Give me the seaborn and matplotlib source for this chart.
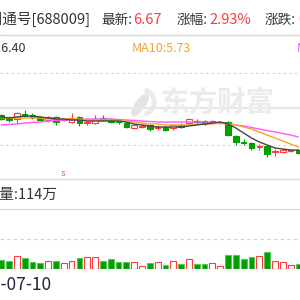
import matplotlib
matplotlib.use("Agg")
import matplotlib.pyplot as plt
from matplotlib.lines import Line2D
from matplotlib.patches import Wedge, Ellipse
import seaborn as sns

# daily candles, oldest first (price in yuan)
opens = [6.38, 6.35, 6.34, 6.39, 6.38, 6.36, 6.33, 6.36, 6.33, 6.31, 6.36, 6.30, 6.30,
         6.35, 6.34, 6.32, 6.30, 6.25, 6.26, 6.28, 6.25, 6.26, 6.25, 6.28, 6.30, 6.32,
         6.32, 6.31, 6.30, 6.31, 6.17, 6.11, 6.10, 6.06, 6.07, 6.01, 6.01, 6.02, 6.03]
closes = [6.34, 6.33, 6.40, 6.37, 6.36, 6.33, 6.36, 6.31, 6.34, 6.35, 6.30, 6.31, 6.34,
          6.33, 6.31, 6.31, 6.26, 6.28, 6.27, 6.24, 6.26, 6.23, 6.28, 6.26, 6.34, 6.31,
          6.29, 6.32, 6.31, 6.18, 6.11, 6.10, 6.05, 6.07, 5.99, 6.02, 6.03, 6.03, 6.00]
highs = [6.39, 6.37, 6.41, 6.43, 6.40, 6.37, 6.37, 6.37, 6.35, 6.40, 6.37, 6.32, 6.38,
         6.38, 6.35, 6.33, 6.31, 6.29, 6.29, 6.29, 6.28, 6.27, 6.29, 6.30, 6.35, 6.34,
         6.33, 6.33, 6.32, 6.32, 6.18, 6.14, 6.11, 6.09, 6.08, 6.04, 6.04, 6.04, 6.04]
lows = [6.33, 6.31, 6.30, 6.36, 6.34, 6.32, 6.31, 6.28, 6.32, 6.30, 6.27, 6.28, 6.29,
        6.32, 6.30, 6.29, 6.25, 6.24, 6.25, 6.22, 6.23, 6.22, 6.23, 6.25, 6.29, 6.29,
        6.28, 6.30, 6.29, 6.17, 6.08, 6.08, 6.03, 6.03, 5.96, 5.97, 6.00, 6.01, 5.99]

# moving averages as drawn
ma5 = [6.36, 6.35, 6.36, 6.37, 6.37, 6.36, 6.35, 6.34, 6.34, 6.33, 6.33, 6.32, 6.32,
       6.32, 6.32, 6.32, 6.31, 6.29, 6.28, 6.27, 6.26, 6.26, 6.26, 6.26, 6.27, 6.28,
       6.29, 6.30, 6.31, 6.29, 6.25, 6.20, 6.15, 6.11, 6.08, 6.05, 6.04, 6.03, 6.03]
ma10 = [6.35, 6.35, 6.35, 6.35, 6.35, 6.35, 6.34, 6.34, 6.34, 6.34, 6.34, 6.33, 6.33,
        6.33, 6.33, 6.32, 6.32, 6.31, 6.30, 6.29, 6.29, 6.28, 6.28, 6.28, 6.28, 6.29,
        6.29, 6.29, 6.30, 6.29, 6.28, 6.26, 6.24, 6.21, 6.18, 6.15, 6.12, 6.09, 6.06]
ma20 = [6.28, 6.285, 6.29, 6.30, 6.305, 6.31, 6.32, 6.325, 6.33, 6.33, 6.335, 6.34, 6.34,
        6.34, 6.34, 6.335, 6.33, 6.325, 6.32, 6.315, 6.31, 6.31, 6.31, 6.31, 6.31, 6.31,
        6.31, 6.305, 6.30, 6.29, 6.28, 6.27, 6.255, 6.24, 6.225, 6.21, 6.195, 6.18, 6.16]

# volume, 万股
volume = [90, 80, 130, 110, 70, 60, 80, 80, 60, 80, 110, 120, 120, 80, 100, 70, 75, 70,
          30, 60, 70, 40, 80, 55, 100, 55, 55, 60, 30, 140, 140, 100, 120, 130, 170, 80,
          70, 45, 55]

grid_prices = [6.80, 6.45, 6.08]
vol_grid = 300

RED = "#ff3b3b"
GREEN = "#00a000"
TXT = "#333333"

idx = list(range(len(opens)))
up = [c > o for o, c in zip(opens, closes)]

sns.set_style("white")
plt.rcParams["font.family"] = ["Noto Sans CJK SC", "DejaVu Sans"]

fig = plt.figure(figsize=(3, 3), dpi=100)


def px(x, y):
    # pixel position -> figure fraction
    return x / 300, 1 - y / 300


# price panel
ax = fig.add_axes([0, 1 - 178 / 300, 1, 118 / 300])
ax.set_xlim(-0.15, 38.2)
ax.set_ylim(5.75, 6.93)
ax.axis("off")

ax.axhline(grid_prices[0], color="#cfcfcf", lw=0.8, dashes=(2, 3), zorder=0)
ax.axhline(grid_prices[1], color="#e6e6e6", lw=1.6, zorder=0)
ax.axhline(grid_prices[2], color="#cfcfcf", lw=0.8, dashes=(2, 3), zorder=0)

cols = [RED if u else GREEN for u in up]
ax.vlines(idx, lows, highs, colors=cols, lw=0.8, zorder=2)
ax.bar(idx, [abs(c - o) for o, c in zip(opens, closes)],
       bottom=[min(o, c) for o, c in zip(opens, closes)], width=0.72,
       color=["white" if u else GREEN for u in up], edgecolor=cols, lw=0.8, zorder=3)

sns.lineplot(x=idx, y=ma20, ax=ax, color="#ff55ff", lw=1.0, zorder=4)
sns.lineplot(x=idx, y=ma10, ax=ax, color="#f5a623", lw=1.0, zorder=4)
sns.lineplot(x=idx, y=ma5, ax=ax, color="#444444", lw=1.0, zorder=4)

# volume panel
axv = fig.add_axes([0, 1 - 269 / 300, 1, 60 / 300])
sns.barplot(x=idx, y=volume, ax=axv, color="white", width=0.74, errorbar=None, zorder=3)
for p, u in zip(axv.patches, up):
    if u:
        p.set_facecolor("white")
        p.set_edgecolor(RED)
    else:
        p.set_facecolor(GREEN)
        p.set_edgecolor("#5cc45c")
    p.set_linewidth(0.8)
axv.axhline(vol_grid, color="#d0d0d0", lw=0.8, dashes=(3, 3), zorder=0)
axv.set_xlim(-0.15, 38.2)
axv.set_ylim(0, 600)
axv.axis("off")

# separators
for yy, c in [(34.5, "#d6d6d6"), (179, "#dcdcdc"), (209, "#dcdcdc")]:
    fig.add_artist(Line2D([0, 1], [1 - yy / 300] * 2, color=c, lw=1.0,
                          transform=fig.transFigure))

# watermark
fig.text(*px(160, 103), "东方财富", fontsize=20.5, color="#ebebeb", va="center",
         ha="left", zorder=0, fontweight="bold")
fig.add_artist(Wedge(px(142, 102), 0.047, -75, 75, width=0.012, color="#ebebeb",
                     transform=fig.transFigure, zorder=0))
fig.add_artist(Ellipse(px(140, 105), 0.03, 0.085, angle=-35, color="#e4e4e4",
                       transform=fig.transFigure, zorder=0))

# header
fs = 10.5
fig.text(*px(91, 24), "中国通号[688009]", fontsize=fs, color=TXT, ha="right")
fig.text(*px(132, 24), "最新:", fontsize=9.8, color=TXT, ha="right")
fig.text(*px(133, 24), "6.67", fontsize=fs, color=RED)
fig.text(*px(208, 24), "涨幅:", fontsize=9.8, color=TXT, ha="right")
fig.text(*px(209, 24), "2.93%", fontsize=fs, color=RED)
fig.text(*px(296, 24), "涨跌:", fontsize=9.8, color=TXT, ha="right")
fig.text(*px(298, 24), "0.19", fontsize=fs, color=RED)

fig.text(*px(26, 52), "MA5:6.40", fontsize=9, color=TXT, ha="right")
fig.text(*px(132, 52), "MA10:5.73", fontsize=9, color="#f5a623")
fig.text(*px(297, 52), "MA20:5.40", fontsize=9, color="#ff55ff")

fig.text(*px(63, 176), "S", fontsize=5.5, color=RED, ha="center")
fig.text(*px(57, 199), "成交量:114万", fontsize=fs, color=TXT, ha="right")
fig.text(*px(51, 290), "2020-07-10", fontsize=12.5, color="#1c2440", ha="right")

fig.savefig("out.png", dpi=100)
